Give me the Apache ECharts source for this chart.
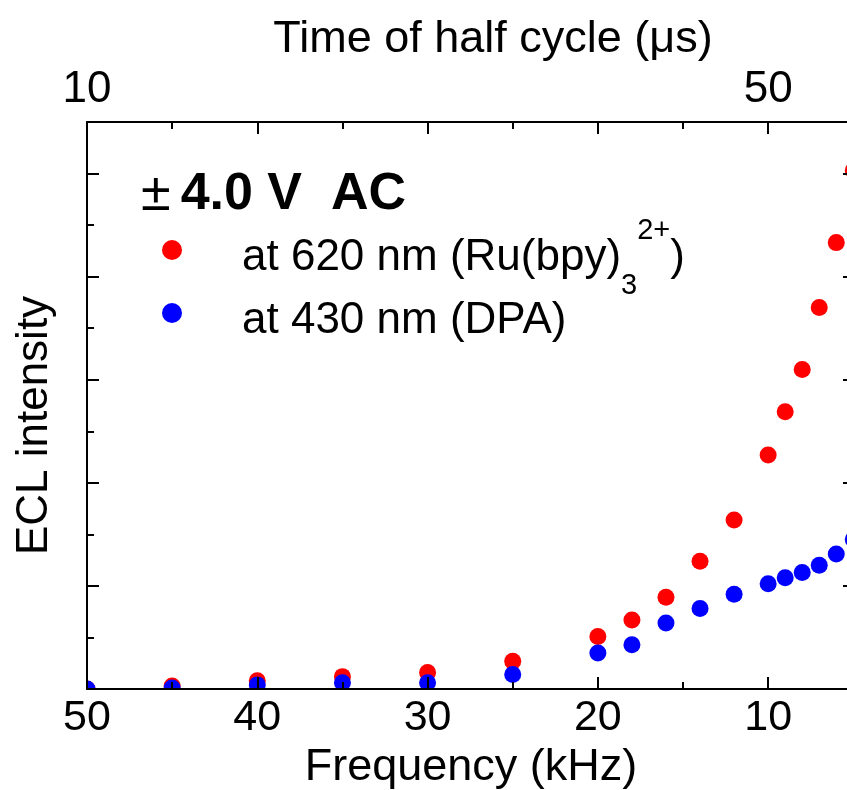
<!DOCTYPE html>
<html>
<head>
<meta charset="utf-8">
<script src="https://cdn.jsdelivr.net/npm/echarts@6/dist/echarts.min.js"></script>
<style>
  html, body { margin: 0; padding: 0; background: #fff; }
  #chart { width: 847px; height: 790px; }
</style>
</head>
<body>
<div id="chart"></div>
<script>
// ---- data ----
const frequencyKHz = [50, 45, 40, 35, 30, 25, 20, 18, 16, 14, 12, 10, 9, 8, 7, 6, 5];
const eclRu620 =    [0.00, 0.03, 0.08, 0.12, 0.16, 0.27, 0.51, 0.67, 0.89, 1.24, 1.64, 2.27, 2.69, 3.10, 3.70, 4.33, 5.03];
const eclDpa430 =   [0.00, 0.01, 0.04, 0.06, 0.06, 0.14, 0.35, 0.43, 0.64, 0.78, 0.92, 1.02, 1.08, 1.13, 1.20, 1.31, 1.45];

const freqMajorTicks = [10, 20, 30, 40, 50];
const freqMinorTicks = [15, 25, 35, 45];
const freqTickLabels = [10, 20, 30, 40, 50];

const timeMajorTicks = [10, 20, 30, 40, 50];
const timeMinorTicks = [15, 25, 35, 45];
const timeTickLabels = [10, 50];

const yMajorTicks = [1, 2, 3, 4, 5];
const yMinorTicks = [0.5, 1.5, 2.5, 3.5, 4.5];

const seriesNames = ['ru', 'dpa'];
const seriesLabels = {
  ru: 'at 620 nm (Ru(bpy){sub|3}{sup|2+})',
  dpa: 'at 430 nm (DPA)'
};

// ---- chart ----
const FONT = '"Liberation Sans", Arial, sans-serif';
const chart = echarts.init(document.getElementById('chart'), null, { renderer: 'canvas' });

const lineStyle = { color: '#000', width: 2 };
const tickStyle = { color: '#000', width: 2 };
const AXIS_Z = 20;

const F_MIN = 4.9, F_MAX = 50;     // frequency range of the plot frame (kHz); right edge lies just past the picture
const T_MIN = 10, T_MAX = 55.1;    // matching top-axis range (μs)

const GRID = { left: 87, right: -8, top: 122, bottom: 101 };

function freqAxisBase(extra) {
  return Object.assign({
    type: 'value', gridIndex: 0, min: F_MIN, max: F_MAX, inverse: true, z: AXIS_Z,
    splitLine: { show: false }
  }, extra);
}
function yAxisBase(extra) {
  return Object.assign({
    type: 'value', gridIndex: 0, min: 0, max: 5.5, z: AXIS_Z,
    splitLine: { show: false }, axisLabel: { show: false }
  }, extra);
}

const option = {
  backgroundColor: '#fff',
  animation: false,
  title: {
    text: '{pm|±}{b|4.0 V  AC}',
    left: 141, top: 168,
    padding: 0,
    textStyle: {
      rich: {
        pm: { fontFamily: FONT, fontSize: 54, color: '#000', fontWeight: 'normal', padding: [0, 10, 0, 0] },
        b: { fontFamily: FONT, fontSize: 52, color: '#000', fontWeight: 'bold' }
      }
    }
  },
  legend: {
    orient: 'vertical',
    left: 162, top: 200,
    padding: 0,
    itemGap: -37,
    itemWidth: 20, itemHeight: 20,
    icon: 'circle',
    data: seriesNames,
    formatter: function (name) { return seriesLabels[name]; },
    textStyle: {
      fontFamily: FONT, fontSize: 44, color: '#000', lineHeight: 84,
      padding: [16, 0, 0, 55],
      rich: {
        sub: { fontFamily: FONT, fontSize: 29, color: '#000', verticalAlign: 'bottom', lineHeight: 30 },
        sup: { fontFamily: FONT, fontSize: 29, color: '#000', verticalAlign: 'top', lineHeight: 64 }
      }
    }
  },
  grid: Object.assign({ containLabel: false, outerBoundsMode: 'none' }, GRID),
  // white masks so that markers are cut off at the left and bottom frame, as in the original plot
  graphic: [
    { type: 'rect', z: 10, silent: true, shape: { x: 40, y: 560, width: GRID.left - 40, height: 140 }, style: { fill: '#fff' } },
    { type: 'rect', z: 10, silent: true, shape: { x: 40, y: 790 - GRID.bottom, width: 820, height: 11 }, style: { fill: '#fff' } }
  ],
  xAxis: [
    freqAxisBase({
      position: 'bottom',
      name: 'Frequency (kHz)', nameLocation: 'middle', nameGap: 48,
      nameTextStyle: { fontFamily: FONT, fontSize: 45, color: '#000' },
      axisLine: { show: true, lineStyle: lineStyle, onZero: false },
      axisTick: { show: true, inside: true, length: 12, lineStyle: tickStyle, customValues: freqMajorTicks },
      axisLabel: { show: true, fontFamily: FONT, fontSize: 43, color: '#000', margin: 8, customValues: freqTickLabels }
    }),
    freqAxisBase({
      position: 'bottom',
      axisLine: { show: false, onZero: false },
      axisTick: { show: true, inside: true, length: 7, lineStyle: tickStyle, customValues: freqMinorTicks },
      axisLabel: { show: false }
    }),
    {
      type: 'value', gridIndex: 0, position: 'top', min: T_MIN, max: T_MAX, z: AXIS_Z,
      splitLine: { show: false },
      name: 'Time of half cycle (μs)', nameLocation: 'middle', nameGap: 60,
      nameTextStyle: { fontFamily: FONT, fontSize: 45, color: '#000', padding: [0, 0, 0, 44] },
      axisLine: { show: true, lineStyle: lineStyle, onZero: false },
      axisTick: { show: true, inside: true, length: 12, lineStyle: tickStyle, customValues: timeMajorTicks },
      axisLabel: { show: true, fontFamily: FONT, fontSize: 44, color: '#000', margin: 10, customValues: timeTickLabels }
    },
    {
      type: 'value', gridIndex: 0, position: 'top', min: T_MIN, max: T_MAX, z: AXIS_Z,
      splitLine: { show: false },
      axisLine: { show: false, onZero: false },
      axisTick: { show: true, inside: true, length: 7, lineStyle: tickStyle, customValues: timeMinorTicks },
      axisLabel: { show: false }
    }
  ],
  yAxis: [
    yAxisBase({
      position: 'left',
      name: 'ECL intensity', nameLocation: 'middle', nameGap: 30,
      nameTextStyle: { fontFamily: FONT, fontSize: 44, color: '#000', padding: [0, 40, 0, 0] },
      axisLine: { show: true, lineStyle: lineStyle, onZero: false },
      axisTick: { show: true, inside: true, length: 12, lineStyle: tickStyle, customValues: yMajorTicks }
    }),
    yAxisBase({
      position: 'left',
      axisLine: { show: false, onZero: false },
      axisTick: { show: true, inside: true, length: 7, lineStyle: tickStyle, customValues: yMinorTicks }
    }),
    yAxisBase({
      position: 'right',
      axisLine: { show: true, lineStyle: lineStyle, onZero: false },
      axisTick: { show: true, inside: true, length: 12, lineStyle: tickStyle, customValues: yMajorTicks }
    }),
    yAxisBase({
      position: 'right',
      axisLine: { show: false, onZero: false },
      axisTick: { show: true, inside: true, length: 7, lineStyle: tickStyle, customValues: yMinorTicks }
    })
  ],
  series: [
    {
      name: 'ru', type: 'scatter', xAxisIndex: 0, yAxisIndex: 0,
      symbol: 'circle', symbolSize: 17, clip: true,
      itemStyle: { color: '#ff0000', opacity: 1 },
      data: frequencyKHz.map(function (f, i) { return [f, eclRu620[i]]; }),
      z: 2
    },
    {
      name: 'dpa', type: 'scatter', xAxisIndex: 0, yAxisIndex: 0,
      symbol: 'circle', symbolSize: 17, clip: true,
      itemStyle: { color: '#0000ff', opacity: 1 },
      data: frequencyKHz.map(function (f, i) { return [f, eclDpa430[i]]; }),
      z: 3
    }
  ]
};
chart.setOption(option);
</script>
</body>
</html>
